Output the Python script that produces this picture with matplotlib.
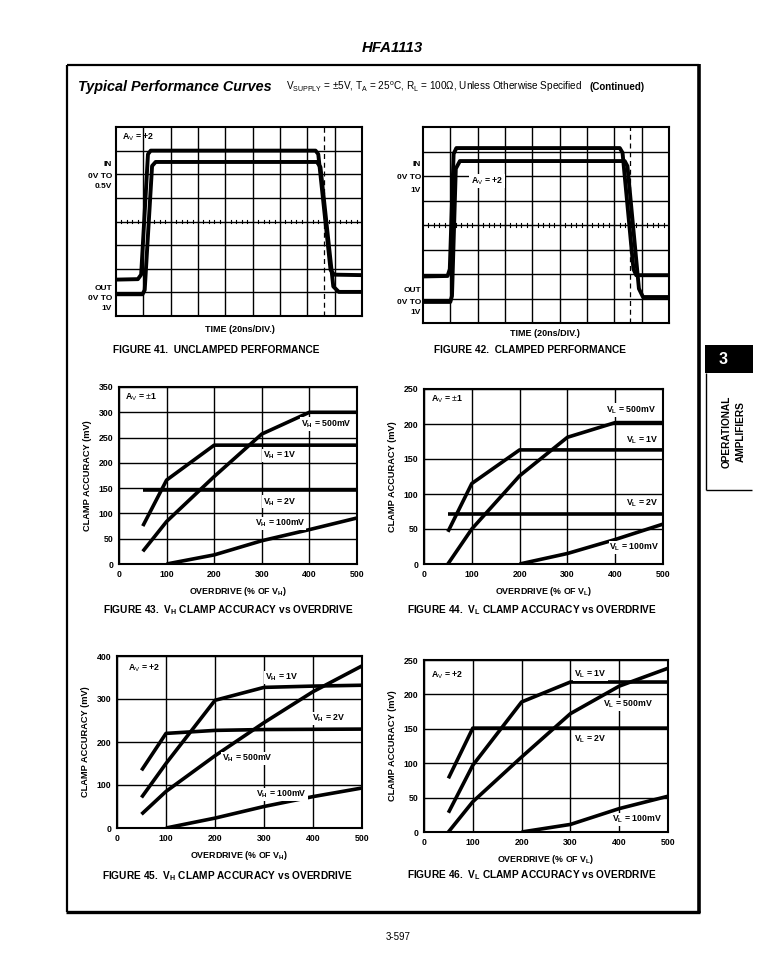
import matplotlib
matplotlib.use("Agg")
import matplotlib.pyplot as plt
import numpy as np
from matplotlib.lines import Line2D
from matplotlib.patches import Rectangle

plt.rcParams['font.family'] = ['Liberation Sans', 'DejaVu Sans']
plt.rcParams['mathtext.fontset'] = 'custom'
plt.rcParams['mathtext.rm'] = 'Liberation Sans'
plt.rcParams['mathtext.it'] = 'Liberation Sans:italic'
plt.rcParams['mathtext.bf'] = 'Liberation Sans:bold'

# ---------------- DATA ----------------
# Scope traces (graticule divisions: x 0..9, y 0..8)
f41_a_t = [0, 0.80, 0.92, 1.17, 1.27, 7.30, 7.40, 7.85, 7.98, 9]
f41_a_v = [1.54, 1.56, 1.75, 6.85, 7.00, 7.00, 6.85, 1.95, 1.75, 1.73]
f41_b_t = [0, 0.97, 1.05, 1.32, 1.45, 7.35, 7.48, 7.95, 8.15, 9]
f41_b_v = [0.92, 0.92, 1.10, 6.35, 6.52, 6.52, 6.30, 1.25, 1.02, 1.02]

f42_a_t = [0, 0.90, 0.98, 1.12, 1.22, 7.20, 7.30, 7.70, 7.80, 9]
f42_a_v = [1.90, 1.92, 2.20, 6.90, 7.14, 7.14, 6.95, 2.20, 1.95, 1.95]
f42_b_t = [0, 1.00, 1.06, 1.20, 1.35, 7.38, 7.48, 7.90, 8.05, 9]
f42_b_v = [0.86, 0.86, 1.10, 6.30, 6.61, 6.61, 6.40, 1.40, 1.06, 1.06]

# Clamp accuracy curves (x = overdrive %, y = mV)
f43_x_500 = [50, 100, 200, 300, 400, 500]
f43_y_500 = [25, 84, 173, 257, 300, 300]
f43_x_1v = [50, 100, 200, 500]
f43_y_1v = [75, 166, 235, 235]
f43_x_2v = [50, 500]
f43_y_2v = [147, 147]
f43_x_100 = [100, 200, 300, 400, 500]
f43_y_100 = [0, 18, 46, 68, 91]

f44_x_500 = [50, 100, 200, 300, 400, 500]
f44_y_500 = [0, 50, 126, 181, 202, 202]
f44_x_1v = [50, 100, 200, 500]
f44_y_1v = [46, 115, 163, 163]
f44_x_2v = [50, 500]
f44_y_2v = [72, 72]
f44_x_100 = [200, 300, 400, 500]
f44_y_100 = [0, 15, 35, 57]

f45_x_2v = [50, 100, 200, 300, 500]
f45_y_2v = [134, 220, 227, 229, 230]
f45_x_1v = [50, 100, 200, 300, 400, 500]
f45_y_1v = [71, 150, 297, 327, 330, 332]
f45_x_500 = [50, 100, 200, 300, 400, 500]
f45_y_500 = [32, 85, 168, 245, 317, 377]
f45_x_100 = [100, 200, 300, 400, 500]
f45_y_100 = [0, 23, 50, 73, 93]

f46_x_2v = [50, 100, 500]
f46_y_2v = [78, 151, 151]
f46_x_1v = [50, 100, 200, 300, 500]
f46_y_1v = [28, 97, 189, 218, 218]
f46_x_500 = [50, 100, 200, 300, 400, 500]
f46_y_500 = [0, 44, 109, 172, 212, 238]
f46_x_100 = [200, 300, 400, 500]
f46_y_100 = [0, 11, 34, 52]

x_ticks = [0, 100, 200, 300, 400, 500]
y_ticks_350 = [0, 50, 100, 150, 200, 250, 300, 350]
y_ticks_250 = [0, 50, 100, 150, 200, 250]
y_ticks_400 = [0, 100, 200, 300, 400]

# ---------------- FIGURE ----------------
W, H = 784, 973
fig = plt.figure(figsize=(W / 100, H / 100), dpi=100)


def axpx(l, t, r, b):
    return fig.add_axes([l / W, 1 - b / H, (r - l) / W, (b - t) / H])


def txt(x, y, s, **kw):
    kw.setdefault('va', 'center')
    fig.text(x / W, 1 - y / H, s, **kw)


def fline(x0, y0, x1, y1, lw=1.5):
    fig.add_artist(Line2D([x0 / W, x1 / W], [1 - y0 / H, 1 - y1 / H],
                          color='black', lw=lw, solid_capstyle='butt'))


def vsub(sub):
    return r'V$_{\mathbf{' + sub + r'}}$'


LBL = 6.3   # in-plot label size
CAP = 7.3   # figure caption size

# page header
txt(392, 48, 'HFA1113', ha='center', fontsize=10.8, fontweight='bold', style='italic')
# border box
fline(67, 65, 699, 65, 1.6)
fline(67, 65, 67, 912, 1.6)
fline(699, 64, 699, 913, 2.6)
fline(66, 912, 700, 912, 2.4)

txt(78, 87, 'Typical Performance Curves', ha='left', fontsize=10.4,
    fontweight='bold', style='italic')
txt(286, 87, r'V$_{\mathrm{SUPPLY}}$ = $\pm$5V, T$_{\mathrm{A}}$ = 25$^{\mathrm{o}}$C, '
    r'R$_{\mathrm{L}}$ = 100$\Omega$, Unless Otherwise Specified',
    ha='left', fontsize=7.2)
txt(590, 87, '(Continued)', ha='left', fontsize=7.0, fontweight='bold')


def scope(ax, ta, va, tb, vb, dash_x):
    ax.set_xlim(0, 9)
    ax.set_ylim(0, 8)
    ax.set_xticks([])
    ax.set_yticks([])
    for s in ax.spines.values():
        s.set_linewidth(1.5)
    for i in range(1, 9):
        ax.axvline(i, color='black', lw=1.0)
    for j in range(1, 8):
        ax.axhline(j, color='black', lw=1.0)
    for k in np.arange(0.2, 9, 0.2):
        ax.plot([k, k], [3.93, 4.07], color='black', lw=0.8)
    ax.axvline(dash_x, color='black', lw=0.9, ls=(0, (4, 3)))
    ax.plot(ta, va, color='black', lw=2.8, solid_joinstyle='round')
    ax.plot(tb, vb, color='black', lw=2.8, solid_joinstyle='round')


ax41 = axpx(116, 127, 362, 316)
scope(ax41, f41_a_t, f41_a_v, f41_b_t, f41_b_v, 7.6)
ax41.text(0.22, 7.55, r'A$_{\mathrm{V}}$ = +2', fontsize=LBL, fontweight='bold', va='center')
for y, s in [(164, 'IN'), (176, '0V TO'), (187, '0.5V'), (288, 'OUT'), (298, '0V TO'), (309, '1V')]:
    txt(112, y, s, ha='right', fontsize=6.0, fontweight='bold')
txt(240, 330, 'TIME (20ns/DIV.)', ha='center', fontsize=6.5, fontweight='bold')
txt(216, 350, 'FIGURE 41.  UNCLAMPED PERFORMANCE', ha='center', fontsize=CAP, fontweight='bold')

ax42 = axpx(423, 127, 669, 323)
scope(ax42, f42_a_t, f42_a_v, f42_b_t, f42_b_v, 7.57)
ax42.text(1.75, 5.8, r'A$_{\mathrm{V}}$ = +2', fontsize=LBL, fontweight='bold', va='center',
          bbox=dict(facecolor='white', edgecolor='none', pad=1))
for y, s in [(165, 'IN'), (178, '0V TO'), (190, '1V'), (290, 'OUT'), (302, '0V TO'), (313, '1V')]:
    txt(421, y, s, ha='right', fontsize=6.0, fontweight='bold')
txt(545, 333, 'TIME (20ns/DIV.)', ha='center', fontsize=6.5, fontweight='bold')
txt(530, 350, 'FIGURE 42.  CLAMPED PERFORMANCE', ha='center', fontsize=CAP, fontweight='bold')


def chart(ax, ymax, yticks, curves, sub):
    ax.set_xlim(0, 500)
    ax.set_ylim(0, ymax)
    ax.set_xticks(x_ticks)
    ax.set_yticks(yticks)
    ax.tick_params(length=0, pad=4, labelsize=6.3)
    for lab in ax.get_xticklabels() + ax.get_yticklabels():
        lab.set_fontweight('bold')
    for s in ax.spines.values():
        s.set_linewidth(1.5)
    ax.grid(True, color='black', lw=1.0)
    ax.set_axisbelow(True)
    for xs, ys in curves:
        ax.plot(xs, ys, color='black', lw=2.6, solid_joinstyle='round',
                solid_capstyle='butt')
    ax.set_ylabel('CLAMP ACCURACY (mV)', fontsize=6.7, fontweight='bold', labelpad=5)
    ax.set_xlabel('OVERDRIVE (% OF ' + vsub(sub) + ')', fontsize=6.4,
                  fontweight='bold', labelpad=5)


def lab(ax, x, y, s, sub, ha='left'):
    ax.text(x, y, vsub(sub) + ' = ' + s, fontsize=LBL,
            fontweight='bold', ha=ha, va='center',
            bbox=dict(facecolor='white', edgecolor='none', pad=0.6))


ax43 = axpx(119, 387, 357, 564)
chart(ax43, 350, y_ticks_350,
      [(f43_x_500, f43_y_500), (f43_x_1v, f43_y_1v), (f43_x_2v, f43_y_2v), (f43_x_100, f43_y_100)], 'H')
ax43.text(12, 330, r'A$_{\mathrm{V}}$ = $\pm$1', fontsize=LBL, fontweight='bold', va='center')
lab(ax43, 382, 277, '500mV', 'H')
lab(ax43, 302, 215, '1V', 'H')
lab(ax43, 302, 123, '2V', 'H')
lab(ax43, 285, 80, '100mV', 'H')
txt(228, 610, 'FIGURE 43.  ' + vsub('H') + ' CLAMP ACCURACY vs OVERDRIVE', ha='center',
    fontsize=CAP, fontweight='bold')

ax44 = axpx(424, 389, 663, 564)
chart(ax44, 250, y_ticks_250,
      [(f44_x_500, f44_y_500), (f44_x_1v, f44_y_1v), (f44_x_2v, f44_y_2v), (f44_x_100, f44_y_100)], 'L')
ax44.text(15, 235, r'A$_{\mathrm{V}}$ = $\pm$1', fontsize=LBL, fontweight='bold', va='center')
lab(ax44, 380, 220, '500mV', 'L')
lab(ax44, 422, 177, '1V', 'L')
lab(ax44, 422, 87, '2V', 'L')
lab(ax44, 388, 24, '100mV', 'L')
txt(532, 610, 'FIGURE 44.  ' + vsub('L') + ' CLAMP ACCURACY vs OVERDRIVE', ha='center',
    fontsize=CAP, fontweight='bold')

ax45 = axpx(117, 656, 362, 828)
chart(ax45, 400, y_ticks_400,
      [(f45_x_2v, f45_y_2v), (f45_x_1v, f45_y_1v), (f45_x_500, f45_y_500), (f45_x_100, f45_y_100)], 'H')
ax45.text(22, 372, r'A$_{\mathrm{V}}$ = +2', fontsize=LBL, fontweight='bold', va='center')
lab(ax45, 302, 350, '1V', 'H')
lab(ax45, 398, 255, '2V', 'H')
lab(ax45, 215, 162, '500mV', 'H')
lab(ax45, 284, 78, '100mV', 'H')
txt(227, 876, 'FIGURE 45.  ' + vsub('H') + ' CLAMP ACCURACY vs OVERDRIVE', ha='center',
    fontsize=CAP, fontweight='bold')

ax46 = axpx(424, 660, 668, 832)
chart(ax46, 250, y_ticks_250,
      [(f46_x_2v, f46_y_2v), (f46_x_1v, f46_y_1v), (f46_x_500, f46_y_500), (f46_x_100, f46_y_100)], 'L')
ax46.text(15, 228, r'A$_{\mathrm{V}}$ = +2', fontsize=LBL, fontweight='bold', va='center')
lab(ax46, 308, 229, '1V', 'L')
lab(ax46, 366, 185, '500mV', 'L')
lab(ax46, 308, 135, '2V', 'L')
lab(ax46, 385, 18, '100mV', 'L')
txt(532, 875, 'FIGURE 46.  ' + vsub('L') + ' CLAMP ACCURACY vs OVERDRIVE', ha='center',
    fontsize=CAP, fontweight='bold')

# side tab
fig.add_artist(Rectangle((705 / W, 1 - 373 / H), (753 - 705) / W, (373 - 345) / H,
                         transform=fig.transFigure, facecolor='black', edgecolor='none'))
txt(723, 359, '3', ha='center', fontsize=11.5, fontweight='bold', color='white')
fline(706, 373, 706, 490, 1.0)
fline(706, 490, 752, 490, 1.0)
txt(727, 432, 'OPERATIONAL', ha='center', rotation=90, fontsize=7.3, fontweight='bold')
txt(741, 432, 'AMPLIFIERS', ha='center', rotation=90, fontsize=7.3, fontweight='bold')

txt(398, 937, '3-597', ha='center', fontsize=7)

fig.savefig('out.png', dpi=100)
